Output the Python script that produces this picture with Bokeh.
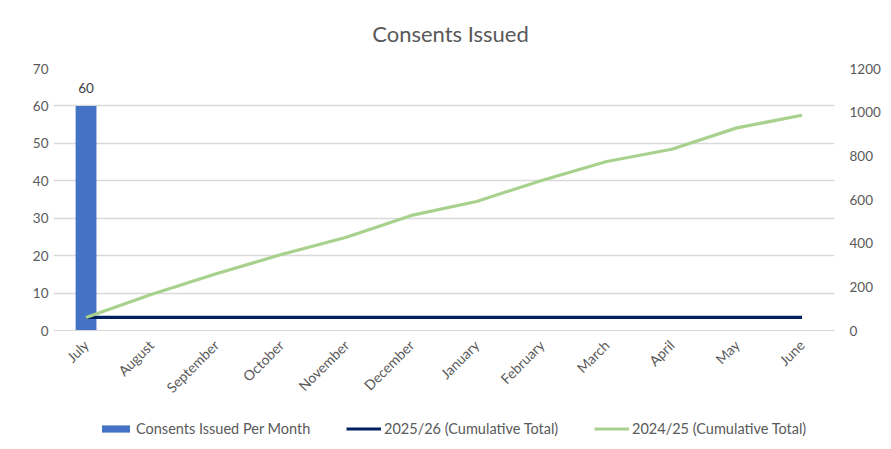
import math
from bokeh.plotting import figure
from bokeh.layouts import column
from bokeh.models import (ColumnDataSource, FactorRange, Range1d, LinearAxis,
                          FixedTicker, Legend, LegendItem, LabelSet, Label)
from bokeh.core.properties import value
from bokeh.embed import file_html
from bokeh.resources import INLINE

months = ["July", "August", "September", "October", "November", "December",
          "January", "February", "March", "April", "May", "June"]
consents_per_month = [60, None, None, None, None, None, None, None, None, None, None, None]
cumulative_2025_26 = [60, 60, 60, 60, 60, 60, 60, 60, 60, 60, 60, 60]
cumulative_2024_25 = [60, 165, 260, 348, 427, 527, 591, 687, 774, 830, 928, 986]
left_ticks = [0, 10, 20, 30, 40, 50, 60, 70]
right_ticks = [0, 200, 400, 600, 800, 1000, 1200]
series_names = ["Consents Issued Per Month", "2025/26 (Cumulative Total)",
                "2024/25 (Cumulative Total)"]

FONT = "Lato"
GREY = "#595959"
BAR_COLOR = "#4472C4"
NAVY = "#002060"
GREEN = "#A9D18E"

W = 891
BL, BR = 53, 57

bar_src = ColumnDataSource(dict(
    month=[m for m, v in zip(months, consents_per_month) if v is not None],
    val=[v for v in consents_per_month if v is not None],
    txt=[str(v) for v in consents_per_month if v is not None],
))

# ---- title strip ----
pt = figure(width=W, height=50, min_border_left=BL, min_border_right=BR,
            min_border_top=0, min_border_bottom=0, output_backend="svg",
            toolbar_location=None, x_axis_location=None, y_axis_location=None,
            outline_line_color=None, x_range=Range1d(0, 1), y_range=Range1d(0, 1))
pt.grid.visible = False
pt.add_layout(Label(x=397, y=17, x_units="screen", y_units="screen",
                    text="Consents Issued", text_align="center",
                    text_baseline="middle", text_font=FONT,
                    text_font_size="22px", text_color=GREY))

# ---- main chart ----
p = figure(x_range=FactorRange(*months, range_padding=0),
           y_range=Range1d(0, 70),
           width=W, height=359,
           min_border_left=BL, min_border_right=BR,
           min_border_top=18, min_border_bottom=79,
           output_backend="svg", toolbar_location=None,
           outline_line_color=None, background_fill_color="white",
           border_fill_color="white")

p.extra_y_ranges = {"cum": Range1d(0, 1200)}

p.xgrid.grid_line_color = None
p.ygrid.grid_line_color = "#d9d9d9"
p.ygrid.grid_line_width = 1.3
p.ygrid.ticker = FixedTicker(ticks=left_ticks)

p.yaxis.ticker = FixedTicker(ticks=left_ticks)
p.yaxis.axis_line_color = None
p.yaxis.major_tick_line_color = None
p.yaxis.minor_tick_line_color = None
p.yaxis.major_tick_out = 0
p.yaxis.major_label_standoff = 5
p.yaxis.major_label_text_font = FONT
p.yaxis.major_label_text_font_size = "13.5px"
p.yaxis.major_label_text_color = GREY

ra = LinearAxis(y_range_name="cum", ticker=FixedTicker(ticks=right_ticks))
ra.axis_line_color = None
ra.major_tick_line_color = None
ra.minor_tick_line_color = None
ra.major_tick_out = 0
ra.major_label_standoff = 15
ra.major_label_text_font = FONT
ra.major_label_text_font_size = "13.5px"
ra.major_label_text_color = GREY
p.add_layout(ra, "right")

p.xaxis.axis_line_color = "#d9d9d9"
p.xaxis.major_tick_line_color = None
p.xaxis.major_tick_out = 0
p.xaxis.major_label_orientation = math.pi / 4
p.xaxis.major_label_standoff = 12
p.xaxis.major_label_text_font = FONT
p.xaxis.major_label_text_font_size = "14px"
p.xaxis.major_label_text_color = GREY

p.vbar(x="month", top="val", width=0.32, source=bar_src,
       fill_color=BAR_COLOR, line_color=None)
p.add_layout(LabelSet(x="month", y="val", text="txt", source=bar_src,
                      y_offset=18, text_align="center", text_baseline="middle",
                      text_font=value(FONT), text_font_size="13.5px",
                      text_color="#404040"))

p.line(months, cumulative_2025_26, y_range_name="cum",
       line_color=NAVY, line_width=3.2)
p.line(months, cumulative_2024_25, y_range_name="cum",
       line_color=GREEN, line_width=3.2)

# ---- legend strip: same series, same styles, drawn outside its visible range ----
pl = figure(width=W, height=40, min_border_left=BL, min_border_right=BR,
            min_border_top=0, min_border_bottom=0, output_backend="svg",
            toolbar_location=None, x_axis_location=None, y_axis_location=None,
            outline_line_color=None,
            x_range=FactorRange(*months, range_padding=0),
            y_range=Range1d(5000, 6000))
pl.grid.visible = False
g1 = pl.vbar(x="month", top="val", width=0.32, source=bar_src,
             fill_color=BAR_COLOR, line_color=None)
g2 = pl.line(months, cumulative_2025_26, line_color=NAVY, line_width=3.2)
g3 = pl.line(months, cumulative_2024_25, line_color=GREEN, line_width=3.2)
leg = Legend(items=[LegendItem(label=series_names[0], renderers=[g1]),
                    LegendItem(label=series_names[1], renderers=[g2]),
                    LegendItem(label=series_names[2], renderers=[g3])],
             location=(45, 12), orientation="horizontal",
             padding=0, margin=0, spacing=0,
             glyph_width=35, glyph_height=9, label_height=9, label_width=210,
             label_standoff=3, border_line_color=None,
             background_fill_alpha=0,
             label_text_font=FONT, label_text_font_size="14.5px",
             label_text_color=GREY)
pl.add_layout(leg, "center")

layout = column(pt, p, pl, spacing=0)
open("out.html", "w").write(file_html(layout, INLINE))
